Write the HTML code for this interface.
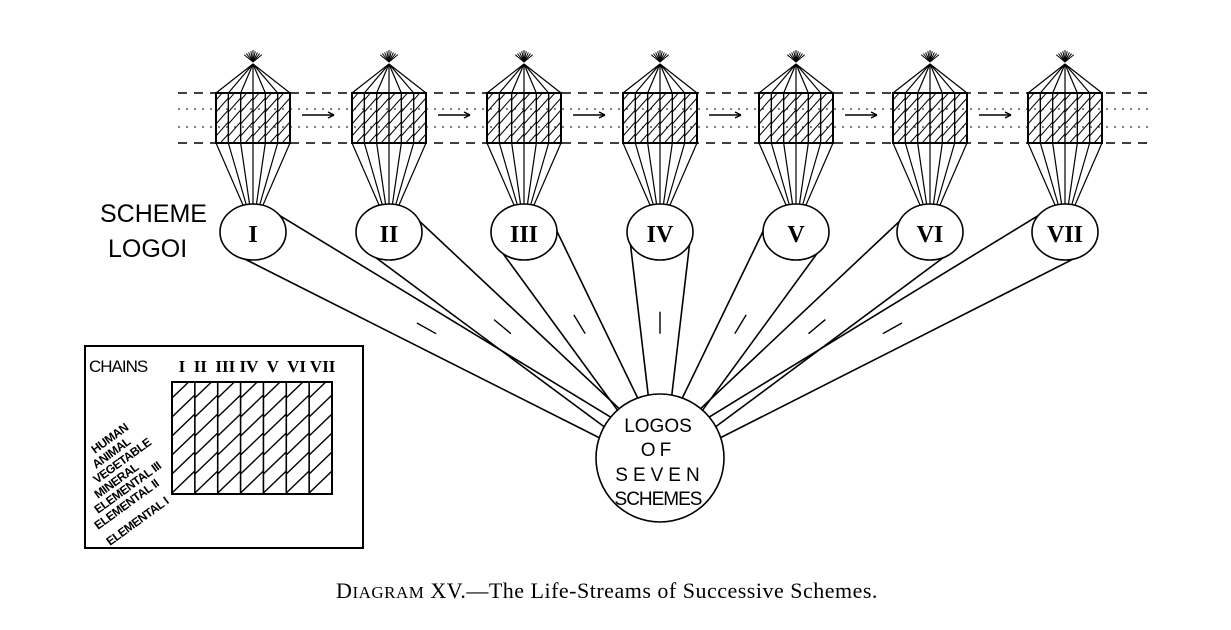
<!DOCTYPE html>
<html><head><meta charset="utf-8"><style>
html,body{margin:0;padding:0;background:#fff;width:1231px;height:630px;overflow:hidden}
svg{display:block}
text{font-family:"Liberation Sans",sans-serif;fill:#000}
</style></head><body>
<svg id="s" width="1231" height="630" viewBox="0 0 1231 630" xmlns="http://www.w3.org/2000/svg">
<defs>
<clipPath id="gc"><rect x="172" y="382" width="160" height="112"/></clipPath>
</defs>
<g id="g" stroke="#000" fill="none" stroke-width="1.6"></g>
<text x="100" y="222" font-size="25">SCHEME</text>
<text x="108" y="257" font-size="25">LOGOI</text>
<text x="658" y="432" font-size="19" text-anchor="middle">LOGOS</text>
<text x="658" y="456" font-size="19" text-anchor="middle" letter-spacing="4">OF</text>
<text x="660" y="481" font-size="19" text-anchor="middle" letter-spacing="5">SEVEN</text>
<text x="658" y="505" font-size="19" text-anchor="middle" letter-spacing="-1">SCHEMES</text>
<text x="89" y="372" font-size="17" letter-spacing="-1">CHAINS</text>
<text x="257" y="372" font-size="17" font-weight="bold" text-anchor="middle" style="font-family:'Liberation Serif',serif">I &#160;II &#160;III IV &#160;V &#160;VI VII</text>
<g font-size="12" font-weight="bold" letter-spacing="-0.5">
<text transform="translate(95,454) rotate(-36)">HUMAN</text>
<text transform="translate(96,469) rotate(-36)">ANIMAL</text>
<text transform="translate(97,484) rotate(-36)">VEGETABLE</text>
<text transform="translate(98,499) rotate(-36)">MINERAL</text>
<text transform="translate(98,514) rotate(-36)">ELEMENTAL III</text>
<text transform="translate(98,530) rotate(-36)">ELEMENTAL II</text>
<text transform="translate(110,546) rotate(-36)">ELEMENTAL I</text>
</g>
<text x="607" y="598" font-size="22" text-anchor="middle" style="font-family:'Liberation Serif',serif" letter-spacing="0.5">D<tspan font-size="17">IAGRAM</tspan> XV.—The Life-Streams of Successive Schemes.</text>
</svg>
<script>
var g=document.getElementById('g'),s=document.getElementById('s'),NS='http://www.w3.org/2000/svg';
function L(x1,y1,x2,y2,w,d){var e=document.createElementNS(NS,'line');e.setAttribute('x1',x1);e.setAttribute('y1',y1);e.setAttribute('x2',x2);e.setAttribute('y2',y2);if(w)e.setAttribute('stroke-width',w);if(d)e.setAttribute('stroke-dasharray',d);g.appendChild(e);}
function T(x,y,t){var e=document.createElementNS(NS,'text');e.setAttribute('x',x);e.setAttribute('y',y);e.setAttribute('font-size','24');e.setAttribute('text-anchor','middle');e.setAttribute('style',"font-family:'Liberation Serif',serif;font-weight:bold");e.textContent=t;s.appendChild(e);}
L(178,93,1148,93,1.6,'9 7');L(178,143,1148,143,1.6,'9 7');
L(178,109,1148,109,1,'2 6');L(178,127,1148,127,1,'2 6');
var cx=[253,389,524,660,796,930,1065],R=['I','II','III','IV','V','VI','VII'];
var B=[660,458],BR=64;
var c0=document.createElementNS(NS,'circle');c0.setAttribute('cx',B[0]);c0.setAttribute('cy',B[1]);c0.setAttribute('r',BR);g.appendChild(c0);
for(var i=0;i<7;i++){var c=cx[i],x0=c-37,x1=c+37;
 for(var k=-4;k<=4;k++)L(c,62,c+k*2.2,50+Math.abs(k)*1.2,1);
 for(var k=0;k<=6;k++)L(c,64,x0+k*74/6,93,1.2);
 var hg=document.createElementNS(NS,'g');
 var cp=document.createElementNS(NS,'clipPath');cp.setAttribute('id','bc'+i);var cr=document.createElementNS(NS,'rect');cr.setAttribute('x',x0);cr.setAttribute('y',93);cr.setAttribute('width',74);cr.setAttribute('height',50);cp.appendChild(cr);s.appendChild(cp);
 hg.setAttribute('clip-path','url(#bc'+i+')');g.appendChild(hg);
 for(var k=0;k<6;k++){var cl=x0+k*74/6;for(var yy=100;yy<=158;yy+=12){var l=document.createElementNS(NS,'line');l.setAttribute('x1',cl);l.setAttribute('y1',yy);l.setAttribute('x2',cl+74/6);l.setAttribute('y2',yy-14);l.setAttribute('stroke-width',1);hg.appendChild(l);}}
 var r=document.createElementNS(NS,'rect');r.setAttribute('x',x0);r.setAttribute('y',93);r.setAttribute('width',74);r.setAttribute('height',50);r.setAttribute('stroke-width',2);g.appendChild(r);
 for(var k=1;k<6;k++)L(x0+k*74/6,93,x0+k*74/6,143,1.4);
 for(var k=0;k<=6;k++)L(x0+k*74/6,143,c-10+k*20/6,205,1.2);
 if(i<6){L(x1+12,115,x1+44,115,1.6);L(x1+44,115,x1+38,112,1.4);L(x1+44,115,x1+38,118,1.4);}
 var dx=B[0]-c,dy=B[1]-232,d=Math.hypot(dx,dy),ux=dx/d,uy=dy/d,nx=-uy,ny=ux;
 for(var sgn=-1;sgn<=1;sgn+=2){
  var px=c+nx*sgn*31,py=232+ny*sgn*27;
  var tx=-ux*BR+nx*sgn*12,ty=-uy*BR+ny*sgn*12,tl=Math.hypot(tx,ty);
  var qx=B[0]+tx/tl*BR,qy=B[1]+ty/tl*BR;
  L(px,py,qx,qy,1.6);}
 var mx=c+dx*0.45,my=232+dy*0.45;L(mx,my,mx-ux*22,my-uy*22,1.4);
 var e=document.createElementNS(NS,'ellipse');e.setAttribute('cx',c);e.setAttribute('cy',232);e.setAttribute('rx',33);e.setAttribute('ry',28);e.setAttribute('fill','#fff');g.appendChild(e);
 T(c,242,R[i]);
}
var r=document.createElementNS(NS,'rect');r.setAttribute('x',85);r.setAttribute('y',346);r.setAttribute('width',278);r.setAttribute('height',202);r.setAttribute('stroke-width',2);g.appendChild(r);
r=document.createElementNS(NS,'rect');r.setAttribute('x',172);r.setAttribute('y',382);r.setAttribute('width',160);r.setAttribute('height',112);r.setAttribute('stroke-width',2);g.appendChild(r);
for(var k=1;k<7;k++)L(172+k*160/7,382,172+k*160/7,494,1.6);
var gg=document.createElementNS(NS,'g');gg.setAttribute('clip-path','url(#gc)');g.appendChild(gg);
for(var k=0;k<7;k++){var cl=172+k*160/7;for(var yy=398;yy<=510;yy+=19){var l=document.createElementNS(NS,'line');l.setAttribute('x1',cl);l.setAttribute('y1',yy);l.setAttribute('x2',cl+160/7);l.setAttribute('y2',yy-22);l.setAttribute('stroke-width',1.4);gg.appendChild(l);}}
</script>
</body></html>
